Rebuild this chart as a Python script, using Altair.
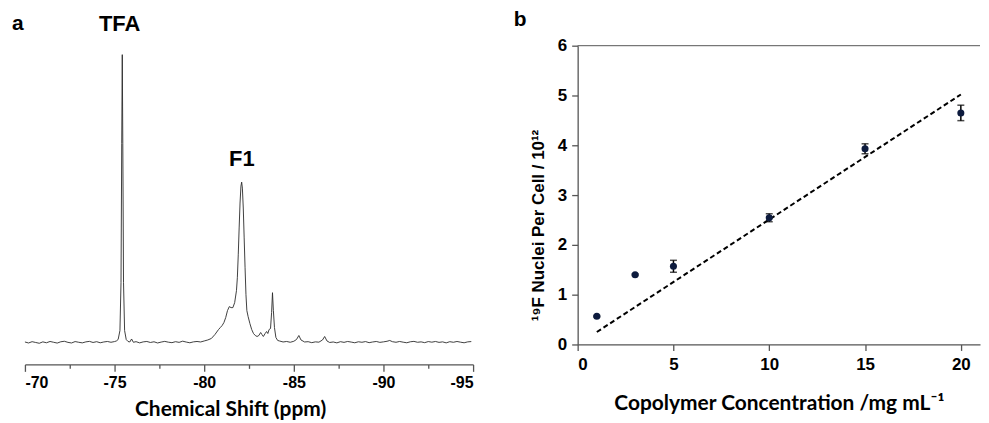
import altair as alt
import pandas as pd

# ---------- panel a: 19F NMR spectrum ----------
shift_ppm = [
    -70.0, -70.2, -70.4, -70.6, -70.8, -71.0, -71.2, -71.4, -71.6, -71.8,
    -72.0, -72.2, -72.4, -72.6, -72.8, -73.0, -73.2, -73.4, -73.6, -73.8,
    -74.0, -74.2, -74.4, -74.6, -74.8, -75.0, -75.1, -75.2, -75.3, -75.36,
    -75.40, -75.43, -75.46, -75.50, -75.56, -75.65, -75.75, -75.85, -75.95, -76.05,
    -76.2, -76.4, -76.6, -76.8, -77.0, -77.2, -77.4, -77.6, -77.8, -78.0,
    -78.2, -78.4, -78.6, -78.8, -79.0, -79.2, -79.4, -79.6, -79.8, -80.0,
    -80.2, -80.4, -80.6, -80.8, -80.9, -81.0, -81.1, -81.2, -81.3, -81.4,
    -81.5, -81.6, -81.7, -81.8, -81.85, -81.9, -81.95, -82.0, -82.05, -82.09,
    -82.13, -82.18, -82.23, -82.28, -82.33, -82.38, -82.45, -82.55, -82.65, -82.75,
    -82.85, -82.95, -83.05, -83.15, -83.22, -83.3, -83.4, -83.48, -83.55, -83.62,
    -83.7, -83.76, -83.81, -83.86, -83.92, -84.0, -84.1, -84.2, -84.4, -84.6,
    -84.8, -85.0, -85.15, -85.28, -85.4, -85.6, -85.8, -86.0, -86.2, -86.4,
    -86.6, -86.72, -86.85, -87.0, -87.2, -87.4, -87.6, -87.8, -88.0, -88.2,
    -88.4, -88.6, -88.8, -89.0, -89.2, -89.4, -89.6, -89.8, -90.0, -90.2,
    -90.35, -90.5, -90.7, -90.9, -91.1, -91.3, -91.5, -91.7, -91.9, -92.1,
    -92.3, -92.5, -92.7, -92.9, -93.1, -93.3, -93.5, -93.7, -93.9, -94.1,
    -94.3, -94.5, -94.7, -94.9,
]
intensity = [
    0.5, -0.5, 0.8, 0.0, -0.8, 0.6, -0.3, 1.0, 0.2, -0.6,
    0.7, 1.2, 0.1, -0.5, 0.9, 0.2, -0.4, 0.6, 1.1, 0.0,
    0.8, -0.3, 0.5, 1.0, 0.2, 0.9, 1.5, 3.0, 12.0, 60.0,
    200.0, 289.0, 200.0, 60.0, 12.0, 3.0, 1.0, 0.5, 3.5, 0.2,
    0.8, -0.4, 0.6, 1.0, 0.0, 0.7, -0.5, 0.4, 1.1, 0.3,
    -0.2, 0.8, 0.1, 1.3, 0.4, -0.3, 0.6, 1.0, 0.5, 1.5,
    2.5, 4.0, 8.0, 13.0, 15.0, 17.0, 20.0, 25.0, 32.0, 36.0,
    35.0, 35.0, 40.0, 52.0, 65.0, 88.0, 115.0, 140.0, 157.0, 161.0,
    155.0, 135.0, 105.0, 75.0, 48.0, 32.0, 26.0, 19.0, 13.0, 9.0,
    7.0, 6.0, 7.0, 10.0, 8.0, 6.0, 9.0, 11.0, 9.0, 13.0,
    14.0, 30.0, 50.0, 32.0, 15.0, 5.0, 2.0, 1.5, 0.5, 1.0,
    0.2, 1.2, 3.0, 7.0, 2.5, 0.5, 0.8, -0.2, 0.6, 0.3,
    2.5, 6.0, 1.5, 0.0, 0.5, -0.4, 0.8, 0.1, 1.0, 0.4,
    -0.3, 0.7, 0.2, 0.9, -0.2, 0.5, 1.0, 0.1, 0.6, 1.2,
    2.0, 0.8, 0.2, 1.0, 0.3, -0.3, 0.7, 1.1, 0.2, 0.6,
    -0.2, 0.9, 0.3, 1.0, 0.1, 0.6, -0.4, 0.8, 0.2, 1.0,
    0.3, -0.3, 0.6, 0.9,
]
shift_ticks = [-70, -72.5, -75, -77.5, -80, -82.5, -85, -87.5, -90, -92.5, -95]
peak_labels = ["TFA", "F1"]
peak_ppm = [-75.28, -82.1]
peak_int = [320, 184]

# ---------- panel b: uptake vs concentration ----------
conc = [1, 3, 5, 10, 15, 20]
nuclei = [0.565, 1.40, 1.57, 2.545, 3.93, 4.65]
nuclei_err = [0.015, 0.015, 0.12, 0.08, 0.10, 0.155]
fit_conc = [1, 20]
fit_nuclei = [0.25, 5.02]
conc_ticks = [0, 5, 10, 15, 20]
nuclei_ticks = [0, 1, 2, 3, 4, 5, 6]

LABEL_FONT = "Liberation Sans"
TITLE_FONT = "Lato"
AX = "#555555"

spec_df = pd.DataFrame({"ppm": shift_ppm, "int": intensity})
peak_df = pd.DataFrame({"label": peak_labels, "ppm": peak_ppm, "int": peak_int})
panel_a_df = pd.DataFrame({"label": ["a"], "ppm": [-69.6], "int": [320]})

xa = alt.Scale(domain=[-95, -70], reverse=True, nice=False, zero=False)
ya = alt.Scale(domain=[-22, 298], nice=False, zero=False)

spectrum = alt.Chart(spec_df).mark_line(color="#2a2a2a", strokeWidth=0.9).encode(
    x=alt.X("ppm:Q", scale=xa, axis=alt.Axis(
        values=shift_ticks,
        labelExpr="datum.value % 5 == 0 ? '' + datum.value : ''",
        title="Chemical Shift (ppm)",
        titleFont=TITLE_FONT, titleFontSize=21, titleFontWeight="bold",
        titlePadding=8, titleX=206, labelFontSize=16,
        tickSize={"condition": {"test": "datum.value % 5 == 0", "value": 7}, "value": 4},
        labelPadding=3,
    )),
    y=alt.Y("int:Q", scale=ya, axis=None),
    order="ppm:Q",
)
peaks_txt = alt.Chart(peak_df).mark_text(
    font=LABEL_FONT, fontSize=22, fontWeight="bold", color="black", baseline="middle"
).encode(x=alt.X("ppm:Q", scale=xa), y=alt.Y("int:Q", scale=ya), text="label:N")
a_txt = alt.Chart(panel_a_df).mark_text(
    font=LABEL_FONT, fontSize=21, fontWeight="bold", color="black", baseline="middle"
).encode(x=alt.X("ppm:Q", scale=xa), y=alt.Y("int:Q", scale=ya), text="label:N")

left = alt.layer(spectrum, peaks_txt, a_txt).properties(width=450, height=320)

# ---------- right panel ----------
pts_df = pd.DataFrame({"conc": conc, "n": nuclei, "err": nuclei_err})
pts_df["lo"] = pts_df["n"] - pts_df["err"]
pts_df["hi"] = pts_df["n"] + pts_df["err"]
fit_df = pd.DataFrame({"conc": fit_conc, "n": fit_nuclei})
b_df = pd.DataFrame({"label": ["b"], "conc": [-3.0], "n": [6.52]})
top_df = pd.DataFrame({"n": [6]})

xb = alt.Scale(domain=[0, 21], nice=False)
yb = alt.Scale(domain=[0, 6], nice=False)

x_enc = alt.X("conc:Q", scale=xb, axis=alt.Axis(
    values=conc_ticks, title="Copolymer Concentration /mg mL⁻¹",
    titleFont=TITLE_FONT, titleFontSize=21, titleFontWeight="bold",
    titlePadding=20, tickSize=6, labelPadding=6, labelFontSize=17,
))
y_enc = alt.Y("n:Q", scale=yb, axis=alt.Axis(
    values=nuclei_ticks, title="¹⁹F Nuclei Per Cell / 10¹²",
    titleFont=LABEL_FONT, titleFontSize=17, titleFontWeight="bold",
    titlePadding=10, titleY=180, tickSize=6, labelPadding=5, labelFontSize=17,
))

fit = alt.Chart(fit_df).mark_line(
    color="black", strokeWidth=2, strokeDash=[5, 3]
).encode(x=x_enc, y=y_enc)
bars = alt.Chart(pts_df).mark_rule(color="black", strokeWidth=1.5).encode(
    x=alt.X("conc:Q", scale=xb), y=alt.Y("lo:Q", scale=yb), y2="hi:Q"
)
cap_lo = alt.Chart(pts_df).mark_tick(
    color="black", orient="horizontal", size=7, thickness=1.5
).encode(x=alt.X("conc:Q", scale=xb), y=alt.Y("lo:Q", scale=yb))
cap_hi = alt.Chart(pts_df).mark_tick(
    color="black", orient="horizontal", size=7, thickness=1.5
).encode(x=alt.X("conc:Q", scale=xb), y=alt.Y("hi:Q", scale=yb))
dots = alt.Chart(pts_df).mark_point(
    filled=True, color="#0d1b3e", size=50, opacity=1
).encode(x=alt.X("conc:Q", scale=xb), y=alt.Y("n:Q", scale=yb))
top_line = alt.Chart(top_df).mark_rule(color=AX, strokeWidth=1).encode(
    y=alt.Y("n:Q", scale=yb)
)
b_txt = alt.Chart(b_df).mark_text(
    font=LABEL_FONT, fontSize=21, fontWeight="bold", color="black", baseline="middle"
).encode(x=alt.X("conc:Q", scale=xb), y=alt.Y("n:Q", scale=yb), text="label:N")

right = alt.layer(fit, top_line, bars, cap_lo, cap_hi, dots, b_txt).properties(
    width=404, height=300
)

chart = alt.hconcat(left, right, spacing=39).configure_view(stroke=None).configure_axis(
    labelFont=LABEL_FONT, labelFontSize=15, labelFontWeight="bold", labelColor="black",
    domainColor=AX, tickColor=AX, domainWidth=1.3, tickWidth=1.3, grid=False,
    titleColor="black",
).properties(background="white", padding={"left": 3, "top": 0, "right": 0, "bottom": 0})

chart.save("out.html", embed_options={"renderer": "svg", "actions": False})
